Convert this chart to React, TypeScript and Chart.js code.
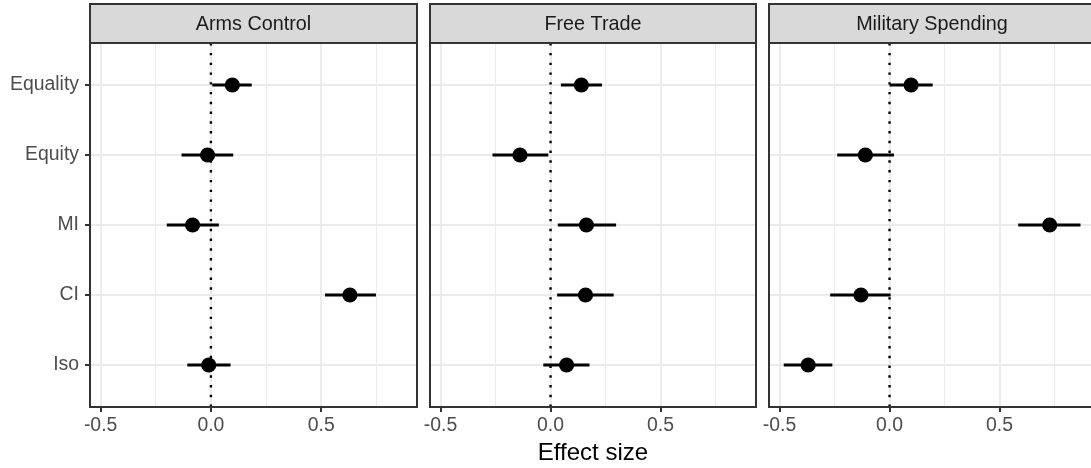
import React, { useEffect, useRef } from 'react';
import { Chart, registerables } from 'chart.js';

Chart.register(...registerables);

const rowLabels = ['Equality', 'Equity', 'MI', 'CI', 'Iso'];
const panelTitles = ['Arms Control', 'Free Trade', 'Military Spending'];
const xTickValues = [-0.5, -0.25, 0, 0.25, 0.5, 0.75];
const xMin = -0.548;
const xMax = 0.934;
const xAxisTitle = 'Effect size';

const armsEst = [0.097, -0.015, -0.083, 0.63, -0.01];
const armsLow = [0.006, -0.133, -0.2, 0.517, -0.107];
const armsHigh = [0.185, 0.101, 0.036, 0.748, 0.089];

const tradeEst = [0.14, -0.139, 0.163, 0.159, 0.073];
const tradeLow = [0.047, -0.264, 0.033, 0.03, -0.033];
const tradeHigh = [0.234, -0.01, 0.298, 0.287, 0.177];

const milEst = [0.098, -0.11, 0.728, -0.13, -0.37];
const milLow = [0.0, -0.238, 0.585, -0.27, -0.481];
const milHigh = [0.196, 0.02, 0.868, 0.005, -0.26];

const FONT = "'Liberation Sans', Arial, Helvetica, sans-serif";

type Panel = {
  title: string;
  est: number[];
  low: number[];
  high: number[];
  left: number;
  width: number;
  padLeft: number;
  padRight: number;
  yWidth: number;
  showY: boolean;
  showTitle: boolean;
};

const panels: Panel[] = [
  { title: panelTitles[0], est: armsEst, low: armsLow, high: armsHigh, left: 0, width: 440, padLeft: 0, padRight: 23, yWidth: 90, showY: true, showTitle: false },
  { title: panelTitles[1], est: tradeEst, low: tradeLow, high: tradeHigh, left: 410, width: 366, padLeft: 20, padRight: 20, yWidth: 0, showY: false, showTitle: true },
  { title: panelTitles[2], est: milEst, low: milLow, high: milHigh, left: 749, width: 366, padLeft: 20, padRight: 20, yWidth: 0, showY: false, showTitle: false },
];

const isMajor = (v: number) => Math.abs(v / 0.5 - Math.round(v / 0.5)) < 1e-9;

function makeChart(canvas: HTMLCanvasElement, p: Panel) {
  const decor = {
    id: 'panelDecor',
    afterDraw(chart: any) {
      const { ctx, chartArea: a } = chart;
      ctx.save();
      ctx.fillStyle = '#d9d9d9';
      ctx.fillRect(a.left, 4, a.right - a.left, a.top - 4);
      ctx.strokeStyle = '#333333';
      ctx.lineWidth = 2;
      ctx.strokeRect(a.left, 4, a.right - a.left, a.top - 4);
      ctx.fillStyle = '#1a1a1a';
      ctx.font = `19.8px ${FONT}`;
      ctx.textAlign = 'center';
      ctx.textBaseline = 'alphabetic';
      ctx.fillText(p.title, (a.left + a.right) / 2, 30);
      ctx.strokeRect(a.left, a.top, a.right - a.left, a.bottom - a.top);
      ctx.restore();
    },
  };

  const datasets: any[] = [];
  datasets.push({
    type: 'line',
    data: rowLabels.map((_, i) => ({ x: p.est[i], y: i })),
    showLine: false,
    pointRadius: 7.6,
    pointBackgroundColor: '#000',
    pointBorderWidth: 0,
    pointBorderColor: '#000',
    order: 0,
  });
  rowLabels.forEach((_, i) => {
    datasets.push({
      type: 'line',
      data: [
        { x: p.low[i], y: i },
        { x: p.high[i], y: i },
      ],
      borderColor: '#000',
      borderWidth: 2.8,
      borderCapStyle: 'butt',
      pointRadius: 0,
      order: 1,
    });
  });
  datasets.push({
    type: 'line',
    data: [
      { x: 0, y: 4.6 },
      { x: 0, y: -0.6 },
    ],
    borderColor: '#000',
    borderWidth: 2.4,
    borderDash: [2.4, 7.37],
    borderCapStyle: 'butt',
    pointRadius: 0,
    order: 2,
  });

  return new Chart(canvas, {
    type: 'line',
    data: { datasets },
    plugins: [decor],
    options: {
      responsive: false,
      animation: false,
      events: [],
      layout: { padding: { top: 43, bottom: 0, left: p.padLeft, right: p.padRight } },
      plugins: { legend: { display: false }, tooltip: { enabled: false }, title: { display: false } },
      scales: {
        x: {
          type: 'linear',
          min: xMin,
          max: xMax,
          afterBuildTicks: (s: any) => {
            s.ticks = xTickValues.map((v) => ({ value: v }));
          },
          afterFit: (s: any) => {
            s.height = 61;
          },
          border: { display: false },
          grid: {
            color: '#ebebeb',
            lineWidth: (c: any) => (isMajor(c.tick.value) ? 2 : 1),
            drawTicks: true,
            tickLength: 5,
            tickWidth: 2,
            tickColor: (c: any) => (isMajor(c.tick.value) ? '#333333' : 'rgba(0,0,0,0)'),
          },
          ticks: {
            autoSkip: false,
            maxRotation: 0,
            padding: 2,
            color: '#4d4d4d',
            font: { size: 19.4, family: FONT },
            callback: (v: any) => (isMajor(Number(v)) ? Number(v).toFixed(1) : ''),
          },
          title: {
            display: p.showTitle,
            text: xAxisTitle,
            color: '#000000',
            font: { size: 24, family: FONT },
            padding: 0,
          },
        },
        y: {
          type: 'linear',
          reverse: true,
          min: -0.6,
          max: 4.6,
          afterBuildTicks: (s: any) => {
            s.ticks = rowLabels.map((_, i) => ({ value: i }));
          },
          afterFit: (s: any) => {
            s.width = p.yWidth;
          },
          border: { display: false },
          grid: {
            color: '#ebebeb',
            lineWidth: 2,
            drawTicks: p.showY,
            tickLength: 5,
            tickWidth: 2,
            tickColor: '#333333',
          },
          ticks: {
            display: p.showY,
            autoSkip: false,
            padding: 6,
            color: '#4d4d4d',
            font: { size: 19.4, family: FONT },
            callback: (v: any) => rowLabels[Math.round(Number(v))] ?? '',
          },
        },
      },
    },
  } as any);
}

function PanelCanvas({ p }: { p: Panel }) {
  const ref = useRef<HTMLCanvasElement | null>(null);
  useEffect(() => {
    if (!ref.current) return;
    const chart = makeChart(ref.current, p);
    return () => chart.destroy();
  }, [p]);
  return (
    <canvas
      ref={ref}
      width={p.width}
      height={468}
      style={{ position: 'absolute', left: p.left, top: 0, width: p.width, height: 468 }}
    />
  );
}

export default function App() {
  return (
    <div
      style={{
        position: 'absolute',
        left: 0,
        top: 0,
        width: 1091,
        height: 468,
        overflow: 'hidden',
        background: '#ffffff',
      }}
    >
      {panels.map((p, i) => (
        <PanelCanvas key={i} p={p} />
      ))}
    </div>
  );
}
